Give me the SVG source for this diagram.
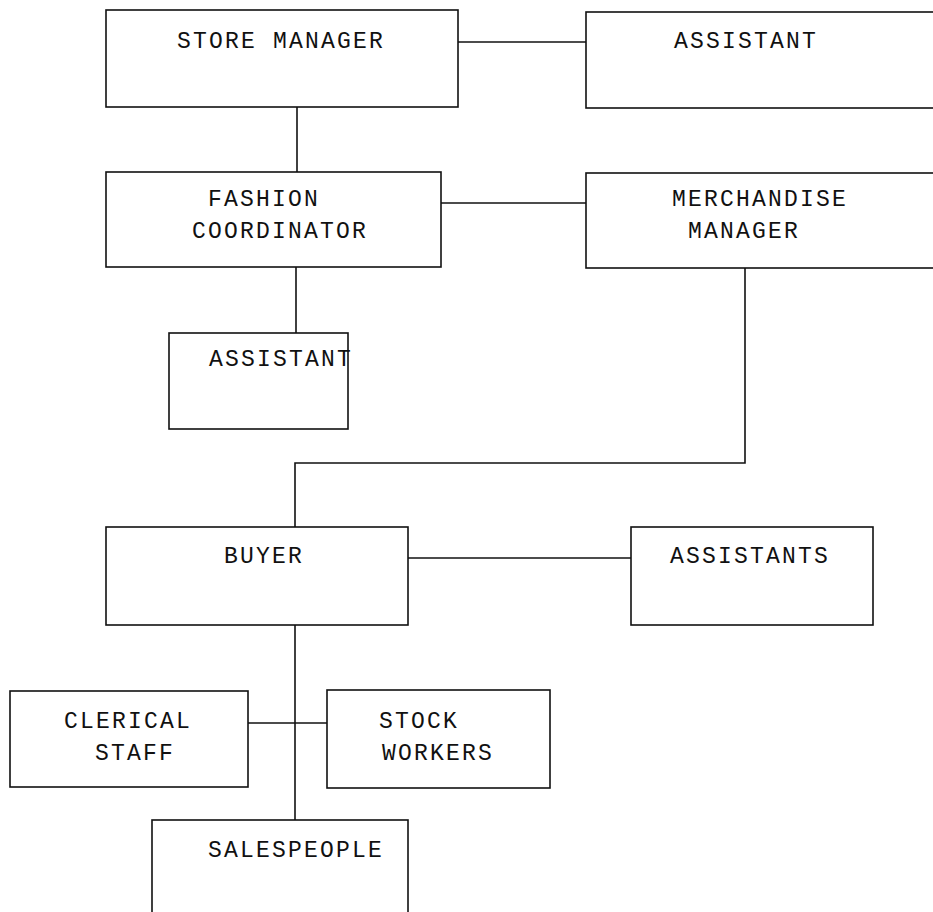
<svg xmlns="http://www.w3.org/2000/svg" width="933" height="912" viewBox="0 0 933 912">
<style>
.box{fill:#fff;stroke:#111;stroke-width:1.6}
.ln{fill:none;stroke:#111;stroke-width:1.6}
text{font-family:"Liberation Mono","DejaVu Sans Mono",monospace;font-size:23px;letter-spacing:2.2px;fill:#111}
</style>
<rect width="933" height="912" fill="#fff"/>
<g id="connectors">
<line class="ln" x1="458" y1="42" x2="586" y2="42"/>
<line class="ln" x1="297" y1="107" x2="297" y2="172"/>
<line class="ln" x1="441" y1="203" x2="586" y2="203"/>
<line class="ln" x1="296" y1="267" x2="296" y2="333"/>
<polyline class="ln" points="745,268 745,463 295,463 295,527"/>
<line class="ln" x1="408" y1="558" x2="631" y2="558"/>
<line class="ln" x1="295" y1="625" x2="295" y2="820"/>
<line class="ln" x1="248" y1="723" x2="327" y2="723"/>
</g>
<g id="store-manager"><rect class="box" x="106" y="10" width="352" height="97"/><text x="177" y="48">STORE MANAGER</text></g>
<g id="assistant-top"><rect class="box" x="586" y="12" width="360" height="96"/><text x="674" y="48">ASSISTANT</text></g>
<g id="fashion-coordinator"><rect class="box" x="106" y="172" width="335" height="95"/><text x="208" y="206">FASHION</text><text x="192" y="238">COORDINATOR</text></g>
<g id="merchandise-manager"><rect class="box" x="586" y="173" width="360" height="95"/><text x="672" y="206">MERCHANDISE</text><text x="688" y="238">MANAGER</text></g>
<g id="assistant-fashion"><rect class="box" x="169" y="333" width="179" height="96"/><text x="209" y="366">ASSISTANT</text></g>
<g id="buyer"><rect class="box" x="106" y="527" width="302" height="98"/><text x="224" y="563">BUYER</text></g>
<g id="assistants"><rect class="box" x="631" y="527" width="242" height="98"/><text x="670" y="563">ASSISTANTS</text></g>
<g id="clerical-staff"><rect class="box" x="10" y="691" width="238" height="96"/><text x="64" y="728">CLERICAL</text><text x="95" y="760">STAFF</text></g>
<g id="stock-workers"><rect class="box" x="327" y="690" width="223" height="98"/><text x="379" y="728">STOCK</text><text x="382" y="760">WORKERS</text></g>
<g id="salespeople"><rect class="box" x="152" y="820" width="256" height="110"/><text x="208" y="857">SALESPEOPLE</text></g>
</svg>
